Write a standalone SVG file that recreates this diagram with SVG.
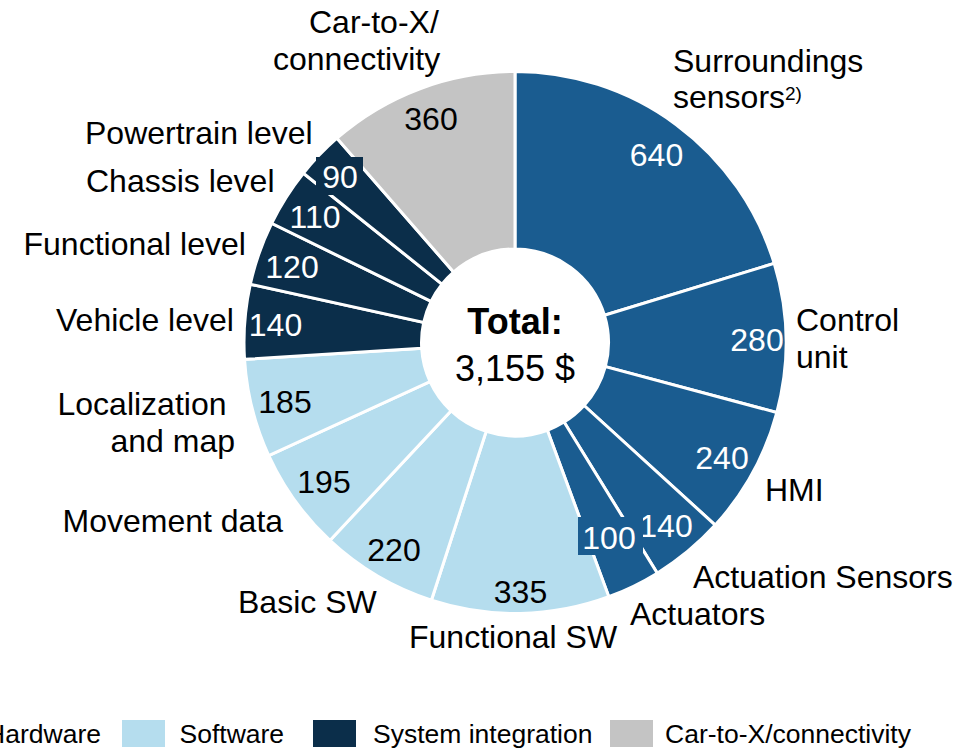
<svg xmlns="http://www.w3.org/2000/svg" width="977" height="749" viewBox="0 0 977 749">
  <style>
    text { font-family: "Liberation Sans", Arial, Helvetica, sans-serif; }
    .lbl { font-size: 32px; fill: #000; }
    .val { font-size: 32px; text-anchor: middle; }
    .w { fill: #fff; }
    .k { fill: #000; }
    .slice { stroke: #fff; stroke-width: 3; stroke-linejoin: miter; }
    .hw { fill: #1A5C90; }
    .sw { fill: #B5DDEE; }
    .si { fill: #0B2E4A; }
    .cx { fill: #C4C4C4; }
    .leg { font-size: 26.5px; fill: #000; }
    .total { font-size: 36px; text-anchor: middle; fill: #000; }
  </style>

  <!-- Doughnut slices, clockwise from 12 o'clock; centre (515,342.5) -->
  <g id="slices">
    <g id="seg-surroundings-sensors"><path class="slice hw" d="M515,71.5 A271,271 0 0 1 774.20,263.39 L604.43,315.21 A93.5,93.5 0 0 0 515,249 Z"/></g>
    <g id="seg-control-unit"><path class="slice hw" d="M774.20,263.39 A271,271 0 0 1 776.80,412.53 L605.32,366.66 A93.5,93.5 0 0 0 604.43,315.21 Z"/></g>
    <g id="seg-hmi"><path class="slice hw" d="M776.80,412.53 A271,271 0 0 1 715.24,525.10 L584.09,405.50 A93.5,93.5 0 0 0 605.32,366.66 Z"/></g>
    <g id="seg-actuation-sensors"><path class="slice hw" d="M715.24,525.10 A271,271 0 0 1 657.26,573.16 L564.08,422.08 A93.5,93.5 0 0 0 584.09,405.50 Z"/></g>
    <g id="seg-actuators"><path class="slice hw" d="M657.26,573.16 A271,271 0 0 1 608.82,596.74 L547.37,430.22 A93.5,93.5 0 0 0 564.08,422.08 Z"/></g>
    <g id="seg-functional-sw"><path class="slice sw" d="M608.82,596.74 A271,271 0 0 1 431.39,600.28 L486.15,431.44 A93.5,93.5 0 0 0 547.37,430.22 Z"/></g>
    <g id="seg-basic-sw"><path class="slice sw" d="M431.39,600.28 A271,271 0 0 1 329.92,540.46 L451.15,410.80 A93.5,93.5 0 0 0 486.15,431.44 Z"/></g>
    <g id="seg-movement-data"><path class="slice sw" d="M329.92,540.46 A271,271 0 0 1 268.75,455.63 L430.04,381.53 A93.5,93.5 0 0 0 451.15,410.80 Z"/></g>
    <g id="seg-localization"><path class="slice sw" d="M268.75,455.63 A271,271 0 0 1 244.53,359.36 L421.68,348.32 A93.5,93.5 0 0 0 430.04,381.53 Z"/></g>
    <g id="seg-vehicle-level"><path class="slice si" d="M244.53,359.36 A271,271 0 0 1 250.33,284.26 L423.68,322.41 A93.5,93.5 0 0 0 421.68,348.32 Z"/></g>
    <g id="seg-functional-level"><path class="slice si" d="M250.33,284.26 A271,271 0 0 1 271.64,223.27 L431.04,301.36 A93.5,93.5 0 0 0 423.68,322.41 Z"/></g>
    <g id="seg-chassis-level"><path class="slice si" d="M271.64,223.27 A271,271 0 0 1 303.36,173.23 L441.98,284.10 A93.5,93.5 0 0 0 431.04,301.36 Z"/></g>
    <g id="seg-powertrain-level"><path class="slice si" d="M303.36,173.23 A271,271 0 0 1 336.93,138.21 L453.56,272.02 A93.5,93.5 0 0 0 441.98,284.10 Z"/></g>
    <g id="seg-car-to-x"><path class="slice cx" d="M336.93,138.21 A271,271 0 0 1 515,71.5 L515,249 A93.5,93.5 0 0 0 453.56,272.02 Z"/></g>
  </g>

  <!-- Value labels (filled boxes where a label spills over a slice edge) -->
  <g id="values">
    <g id="val-640"><text class="val w" x="656.5" y="166">640</text></g>
    <g id="val-280"><text class="val w" x="757" y="351">280</text></g>
    <g id="val-240"><text class="val w" x="722" y="469">240</text></g>
    <g id="val-140a"><text class="val w" x="666" y="537">140</text></g>
    <g id="val-100"><rect class="hw" x="578" y="517" width="65" height="38"/><text class="val w" x="609" y="549">100</text></g>
    <g id="val-335"><text class="val k" x="520.5" y="603">335</text></g>
    <g id="val-220"><text class="val k" x="394" y="561">220</text></g>
    <g id="val-195"><text class="val k" x="324" y="493">195</text></g>
    <g id="val-185"><text class="val k" x="285" y="413">185</text></g>
    <g id="val-140v"><text class="val w" x="275.5" y="336">140</text></g>
    <g id="val-120"><text class="val w" x="292" y="278">120</text></g>
    <g id="val-110"><text class="val w" x="315" y="228">110</text></g>
    <g id="val-90"><rect class="si" x="316" y="157" width="47" height="38"/><text class="val w" x="340" y="188">90</text></g>
    <g id="val-360"><text class="val k" x="431" y="130">360</text></g>
  </g>

  <!-- Category labels -->
  <g id="categories">
    <g id="lbl-car-to-x"><text class="lbl" x="309" y="33">Car-to-X/</text><text class="lbl" x="273" y="70">connectivity</text></g>
    <g id="lbl-surroundings"><text class="lbl" x="673" y="72">Surroundings</text><text class="lbl" x="673" y="108">sensors<tspan font-size="19" dy="-8">2)</tspan></text></g>
    <g id="lbl-control-unit"><text class="lbl" x="796" y="331">Control</text><text class="lbl" x="796" y="368">unit</text></g>
    <g id="lbl-hmi"><text class="lbl" x="765" y="501">HMI</text></g>
    <g id="lbl-actuation-sensors"><text class="lbl" x="693" y="588">Actuation Sensors</text></g>
    <g id="lbl-actuators"><text class="lbl" x="630" y="625">Actuators</text></g>
    <g id="lbl-functional-sw"><text class="lbl" x="409" y="648">Functional SW</text></g>
    <g id="lbl-basic-sw"><text class="lbl" x="238" y="613">Basic SW</text></g>
    <g id="lbl-movement-data"><text class="lbl" x="62.5" y="532">Movement data</text></g>
    <g id="lbl-localization"><text class="lbl" x="57.5" y="415">Localization</text><text class="lbl" x="110.5" y="452">and map</text></g>
    <g id="lbl-vehicle-level"><text class="lbl" x="56" y="331">Vehicle level</text></g>
    <g id="lbl-functional-level"><text class="lbl" x="23.5" y="255">Functional level</text></g>
    <g id="lbl-chassis-level"><text class="lbl" x="86" y="192">Chassis level</text></g>
    <g id="lbl-powertrain-level"><text class="lbl" x="85" y="144">Powertrain level</text></g>
  </g>

  <!-- Centre total -->
  <g id="total">
    <text class="total" x="515" y="334" font-weight="bold">Total:</text>
    <text class="total" x="515" y="381" font-size="37">3,155 $</text>
  </g>

  <!-- Legend (first entry runs past the left edge of the canvas) -->
  <g id="legend">
    <text class="leg" x="101" y="743" text-anchor="end">Hardware</text>
    <rect class="sw" x="122" y="720" width="43" height="27"/>
    <text class="leg" x="179.5" y="743">Software</text>
    <rect class="si" x="313" y="720" width="43" height="27"/>
    <text class="leg" x="373" y="743">System integration</text>
    <rect class="cx" x="610" y="720" width="43" height="27"/>
    <text class="leg" x="665" y="743">Car-to-X/connectivity</text>
  </g>
</svg>
